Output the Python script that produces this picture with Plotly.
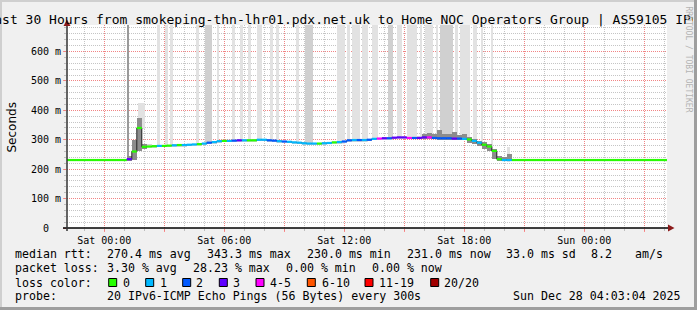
import plotly.graph_objects as go
import pandas as pd

# ---------------- data ----------------
title_text = "Last 30 Hours from smokeping-thn-lhr01.pdx.net.uk to Home NOC Operators Group | AS59105 IPv6"
x_start = "2025-12-26 22:08:06"
x_end = "2025-12-28 04:08:06"
step_first = "2025-12-26 22:15"
step_minutes = 15

# median rtt (ms), one value per 15 minutes
median_ms = ([231] * 12 +
             [234, 260, 340, 276, 277, 278, 279, 279, 280, 281,
              282, 282, 283, 284, 285, 287, 290, 292, 295] +
             [296, 296, 297, 298, 298, 298, 298, 300, 300, 298,
              297, 295, 294, 293, 291, 290, 288, 287, 287, 287,
              288, 289, 291, 292, 294, 298, 299, 299, 299, 300] +
             [303, 304, 305, 305, 307, 308, 308, 306, 306, 306,
              308, 308, 306, 305, 305, 305, 304, 304, 303, 301,
              296, 290, 283, 277, 262, 234, 231, 231] +
             [231] * 32)

# lost pings out of 20
loss_pings = ([0] * 12 +
              [3, 0, 0, 0, 0, 0, 1, 0, 0, 1, 0, 1, 1, 1, 0, 1, 2, 1, 1] +
              [0, 1, 2, 3, 1, 0, 0, 1, 1, 2,
               2, 1, 2, 1, 1, 1, 1, 1, 1, 0,
               1, 1, 0, 1, 2, 2, 1, 2, 1, 2] +
              [1, 4, 3, 2, 3, 3, 3, 4, 2, 3,
               3, 4, 2, 2, 2, 2, 3, 2, 1, 0,
               1, 1, 0, 0, 0, 0, 1, 1] +
              [0] * 32)

# smoke spread above / below the median (ms)
smoke_up = ([2] * 12 +
            [11, 40, 35, 9, 8] + [3] * 14 +
            [3] * 30 +
            [3] * 9 + [6, 10, 14, 12, 28, 15, 13, 22, 11, 15, 9, 7, 7, 9, 8, 8, 11, 11, 19] +
            [2] * 32)
smoke_dn = ([3] * 12 +
            [6, 28, 78, 6, 5] + [5] * 14 +
            [5] * 30 +
            [5] * 19 + [11, 11, 12, 13, 15, 27, 5, 3, 3] +
            [3] * 32)

# tall smoke columns (outlier pings)
spike_start = ["2025-12-27 01:10", "2025-12-27 01:41", "2025-12-27 02:38", "2025-12-27 03:02",
               "2025-12-27 03:17", "2025-12-27 04:35", "2025-12-27 05:02", "2025-12-27 05:38",
               "2025-12-27 06:23", "2025-12-27 06:47", "2025-12-27 07:11", "2025-12-27 07:38",
               "2025-12-27 08:17", "2025-12-27 08:35", "2025-12-27 09:35", "2025-12-27 10:02",
               "2025-12-27 11:38", "2025-12-27 12:08", "2025-12-27 12:23", "2025-12-27 12:53",
               "2025-12-27 13:23", "2025-12-27 14:11", "2025-12-27 14:38", "2025-12-27 15:08",
               "2025-12-27 15:47", "2025-12-27 16:02", "2025-12-27 16:35", "2025-12-27 16:47",
               "2025-12-27 17:32", "2025-12-27 17:47", "2025-12-27 18:26", "2025-12-27 18:53",
               "2025-12-27 19:23", "2025-12-27 20:08"]
spike_len_min = [5, 21, 9, 9, 9, 9, 21, 6, 9, 9, 9, 15, 9, 9, 9, 24,
                 24, 9, 24, 18, 18, 15, 15, 30, 6, 24, 6, 39, 9, 30, 12, 3, 3, 9]
spike_top_ms = [700, 425] + [700] * 31 + [275]
spike_shade = [2, 0, 0, 0, 0, 0, 1, 0, 0, 0, 0, 0, 0, 0, 0, 1,
               0, 0, 0, 0, 0, 1, 0, 0, 0, 0, 0, 1, 0, 0, 0, 0, 0, 0]

x_tick_vals = ["2025-12-27 00:00", "2025-12-27 03:00", "2025-12-27 06:00", "2025-12-27 09:00",
               "2025-12-27 12:00", "2025-12-27 15:00", "2025-12-27 18:00", "2025-12-27 21:00",
               "2025-12-28 00:00", "2025-12-28 03:00"]
x_tick_text = ["Sat 00:00", "", "Sat 06:00", "", "Sat 12:00", "", "Sat 18:00", "", "Sun 00:00", ""]
y_tick_vals = [0, 100, 200, 300, 400, 500, 600]
y_tick_text = ["0\u00a0\u00a0", "100 m", "200 m", "300 m", "400 m", "500 m", "600 m"]

loss_upper = [0, 1, 2, 3, 5, 10, 19, 20]
loss_labels = ["0", "1", "2", "3", "4-5", "6-10", "11-19", "20/20"]
loss_colors = ["#26ff00", "#00b8ff", "#0059ff", "#5e00ff", "#ff00ff", "#ff5500", "#ff0000", "#a10000"]

row1_text = ["median rtt:", "270.4 ms avg", "343.3 ms max", "230.0 ms min",
             "231.0 ms now", "33.0 ms sd", "8.2", "am/s"]
row2_text = ["packet loss:", "3.30 % avg", "28.23 % max", "0.00 % min", "0.00 % now"]
row3_text = ["loss color:"]
row4_text = ["probe:", "20 IPv6-ICMP Echo Pings (56 Bytes) every 300s", "Sun Dec 28 04:03:04 2025"]
watermark = "RRDTOOL / TOBI OETIKER"
y_title = "Seconds"

# ---------------- layout constants (pixels) ----------------
W, H = 697, 310
L, R, T, B = 67, 667, 25, 228
PW, PH = R - L, B - T
row1_px = [16, 107.3, 207.3, 307.3, 407.3, 506.7, 592, 636]
row2_px = [16, 107.3, 193.3, 286.5, 372.5]
row3_px = [16]
row4_px = [16, 107.3, 513.3]
row_py = [254.3, 268.3, 282.7, 296.0]
box_px = [108.7, 145.7, 182.7, 219.3, 256, 307.3, 365, 430.7]
boxlab_px = [123.3, 160.7, 197, 234, 270.7, 322.3, 380, 445]


def px(x):
    return (x - L) / PW


def py(y):
    return (B - y) / PH


MONO = "DejaVu Sans Mono"
MAJ = "rgba(255,110,110,0.75)"
MINC = "rgba(150,150,150,0.55)"

step_times = pd.date_range(step_first, periods=len(median_ms), freq=f"{step_minutes}min")
step_w = step_minutes * 60 * 1000
half = pd.Timedelta(minutes=step_minutes / 2)


def loss_cat(n):
    for k, up in enumerate(loss_upper):
        if n <= up:
            return k
    return len(loss_upper) - 1


fig = go.Figure()

# spikes
sp_start = pd.to_datetime(spike_start)
sp_mid = [s + pd.Timedelta(minutes=m / 2) for s, m in zip(sp_start, spike_len_min)]
sp_base = []
for m in sp_mid:
    idx = int(round((m - step_times[0]) / pd.Timedelta(minutes=step_minutes)))
    idx = max(0, min(len(median_ms) - 1, idx))
    sp_base.append(median_ms[idx] - 5)
shade_cols = ["#e2e2e2", "#d0d0d0", "#9a9a9a"]
fig.add_trace(go.Bar(
    x=sp_mid, base=sp_base, y=[t - b for t, b in zip(spike_top_ms, sp_base)],
    width=[m * 60000 for m in spike_len_min],
    marker=dict(color=[shade_cols[s] for s in spike_shade], line=dict(width=0)),
    hoverinfo="skip", showlegend=False))

# smoke
sm_bot = [m - d for m, d in zip(median_ms, smoke_dn)]
sm_h = [u + d for u, d in zip(smoke_up, smoke_dn)]
fig.add_trace(go.Bar(
    x=step_times, base=sm_bot, y=sm_h, width=step_w,
    marker=dict(color=["#8c8c8c" if h >= 14 else "#d6d6d6" for h in sm_h], line=dict(width=0)),
    hoverinfo="skip", showlegend=False))

# connector (vertical steps of the median line)
fig.add_trace(go.Scatter(
    x=step_times, y=median_ms, mode="lines", line=dict(color="#222222", width=1, shape="hvh"),
    hoverinfo="skip", showlegend=False))

# median coloured by loss: one trace per loss colour, horizontal segments
for k, col in enumerate(loss_colors):
    xs, ys = [], []
    for t, m, n in zip(step_times, median_ms, loss_pings):
        if loss_cat(n) == k:
            xs += [t - half, t + half, None]
            ys += [m, m, None]
    if xs:
        fig.add_trace(go.Scatter(x=xs, y=ys, mode="lines", line=dict(color=col, width=2.2),
                                 hoverinfo="skip", showlegend=False, connectgaps=False))

shapes = []
# frame
shapes += [
    dict(type="rect", xref="paper", yref="paper", x0=px(0), x1=px(2), y0=py(H), y1=py(0),
         fillcolor="#cfcfcf", line=dict(width=0), layer="above"),
    dict(type="rect", xref="paper", yref="paper", x0=px(0), x1=px(W), y0=py(2), y1=py(0),
         fillcolor="#cfcfcf", line=dict(width=0), layer="above"),
    dict(type="rect", xref="paper", yref="paper", x0=px(694), x1=px(W), y0=py(H), y1=py(0),
         fillcolor="#9e9e9e", line=dict(width=0), layer="above"),
    dict(type="rect", xref="paper", yref="paper", x0=px(0), x1=px(W), y0=py(H), y1=py(307),
         fillcolor="#9e9e9e", line=dict(width=0), layer="above"),
]
# axes
shapes += [
    dict(type="line", xref="paper", yref="paper", x0=px(63), x1=px(669), y0=py(228), y1=py(228),
         line=dict(color="#000000", width=1.5), layer="above"),
    dict(type="line", xref="paper", yref="paper", x0=px(67), x1=px(67), y0=py(231), y1=py(24),
         line=dict(color="#333333", width=1.5), layer="above"),
    dict(type="path", xref="paper", yref="paper",
         path=f"M{px(668)},{py(224.5)} L{px(674.5)},{py(228)} L{px(668)},{py(231.5)} Z",
         fillcolor="#8b1a1a", line=dict(width=0), layer="above"),
    dict(type="path", xref="paper", yref="paper",
         path=f"M{px(63.5)},{py(26)} L{px(67)},{py(19.5)} L{px(70.5)},{py(26)} Z",
         fillcolor="#8b1a1a", line=dict(width=0), layer="above"),
]
# legend boxes
for bx, col in zip(box_px, loss_colors):
    shapes.append(dict(type="rect", xref="paper", yref="paper", x0=px(bx), x1=px(bx + 8),
                       y0=py(286.5), y1=py(278.5), fillcolor=col,
                       line=dict(color="#000000", width=1), layer="above"))

ann = []


def text_at(x, y, s, size=11.6, family=MONO, xanchor="left", color="#000000", angle=0, **kw):
    d = dict(xref="paper", yref="paper", x=px(x), y=py(y), text=s, showarrow=False,
             xanchor=xanchor, yanchor="middle", textangle=angle,
             font=dict(family=family, size=size, color=color),
             borderpad=0, borderwidth=0)
    d.update(kw)
    ann.append(d)


# title: box spans the visible image width (up to the frame) and clips the overflow
text_at(0, 19.5, title_text, size=13, xanchor="left", width=693, align="center")
for s, x in zip(row1_text, row1_px):
    text_at(x - 0.7, row_py[0], s)
for s, x in zip(row2_text, row2_px):
    text_at(x - 0.7, row_py[1], s)
for s, x in zip(row3_text, row3_px):
    text_at(x - 0.7, row_py[2], s)
for s, x in zip(loss_labels, boxlab_px):
    text_at(x - 0.7, row_py[2], s)
for s, x in zip(row4_text, row4_px):
    text_at(x - 0.7, row_py[3], s)
text_at(11, 127.5, y_title, size=12, family="DejaVu Sans", xanchor="center", angle=-90)
text_at(688.5, 59, watermark, size=8, xanchor="center", color="#b4b4b4", angle=90)

fig.update_layout(
    width=W, height=H, autosize=False,
    margin=dict(l=L, r=W - R, t=T, b=H - B, pad=0),
    paper_bgcolor="#f0f0f0", plot_bgcolor="#ffffff",
    barmode="overlay", bargap=0, showlegend=False,
    shapes=shapes, annotations=ann,
    xaxis=dict(type="date", range=[x_start, x_end], tickmode="array",
               tickvals=x_tick_vals, ticktext=x_tick_text,
               ticks="outside", ticklen=3, tickcolor=MAJ, tickwidth=1,
               showgrid=True, gridcolor=MAJ, griddash="1px,1px", gridwidth=1,
               tickfont=dict(family=MONO, size=10, color="#000000"),
               showline=False, zeroline=False, fixedrange=True,
               minor=dict(tickmode="linear", tick0="2025-12-27 00:00", dtick=3600000,
                          showgrid=True, gridcolor=MINC, griddash="1px,1px", gridwidth=1,
                          ticks="outside", ticklen=2, tickcolor=MINC)),
    yaxis=dict(range=[0, 690], tickmode="array", tickvals=y_tick_vals, ticktext=y_tick_text,
               ticks="outside", ticklen=3, tickcolor=MAJ, tickwidth=1,
               showgrid=True, gridcolor=MAJ, griddash="1px,1px", gridwidth=1,
               tickfont=dict(family=MONO, size=10, color="#000000"),
               showline=False, zeroline=False, fixedrange=True,
               minor=dict(tickmode="linear", tick0=0, dtick=20,
                          showgrid=True, gridcolor=MINC, griddash="1px,1px", gridwidth=1,
                          ticks="outside", ticklen=2, tickcolor=MINC)),
)

fig.write_html("out.html", config={"displayModeBar": False})
